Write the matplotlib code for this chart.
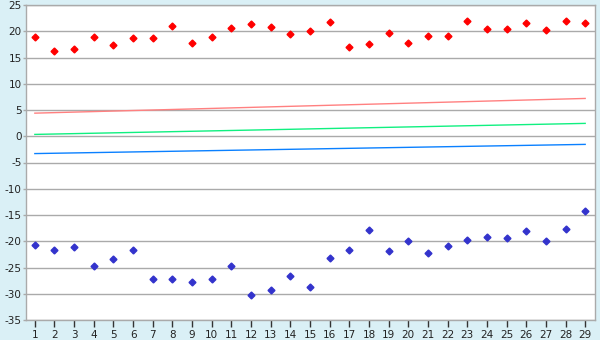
import numpy as np
import matplotlib
matplotlib.use("Agg")
import matplotlib.pyplot as plt

# x positions (1..29)
x = list(range(1, 30))

# upper series (red points)
red_pts = [19.0, 16.2, 16.6, 19.0, 17.3, 18.7, 18.7, 21.0, 17.7, 19.0,
           20.6, 21.4, 20.8, 19.4, 20.0, 21.7, 17.0, 17.5, 19.6, 17.7,
           19.1, 19.1, 21.9, 20.4, 20.4, 21.6, 20.2, 21.9, 21.6]

# lower series (blue points)
blue_pts = [-20.7, -21.7, -21.1, -24.7, -23.4, -21.7, -27.2, -27.2, -27.8, -27.2,
            -24.7, -30.3, -29.3, -26.6, -28.7, -23.2, -21.7, -17.8, -21.8, -19.9,
            -22.2, -20.9, -19.7, -19.2, -19.4, -18.0, -19.9, -17.6, -14.2]

# straight lines, start and end values
line_x = [1, 29]
red_line = [4.4, 7.2]
green_line = [0.35, 2.45]
blue_line = [-3.3, -1.55]

bg = "#daf0f6"
grid_c = "#aaaaaa"

plt.rcParams["axes.unicode_minus"] = False

fig = plt.figure(figsize=(6, 3.4), dpi=100, facecolor=bg)
ax = fig.add_axes([26 / 600, 1 - 320 / 340, (595 - 26) / 600, (320 - 5) / 340])
ax.set_facecolor("white")

ax.plot(line_x, red_line, color="#ff8080", linewidth=1.0, zorder=2)
ax.plot(line_x, green_line, color="#10f080", linewidth=1.0, zorder=2)
ax.plot(line_x, blue_line, color="#0a80ff", linewidth=1.0, zorder=2)

ax.plot(x, red_pts, linestyle="none", marker="D", markersize=3.5,
        color="#ff0000", zorder=3)
ax.plot(x, blue_pts, linestyle="none", marker="D", markersize=3.5,
        color="#3333cc", zorder=3)

ax.set_xlim(0.55, 29.5)
ax.set_ylim(-35, 25)
ax.set_xticks(x)
ax.set_yticks(np.arange(-35, 26, 5))

ax.yaxis.grid(True, color=grid_c, linewidth=1)
ax.set_axisbelow(True)

for s in ax.spines.values():
    s.set_color(grid_c)
    s.set_linewidth(1)

ax.tick_params(axis="x", length=5, width=1, color="#333333", labelsize=7.5,
               labelcolor="#222222", pad=2)
ax.tick_params(axis="y", length=2, width=1, color=grid_c, labelsize=7.5,
               labelcolor="#222222", pad=1)

fig.savefig("out.png", dpi=100, facecolor=bg)
